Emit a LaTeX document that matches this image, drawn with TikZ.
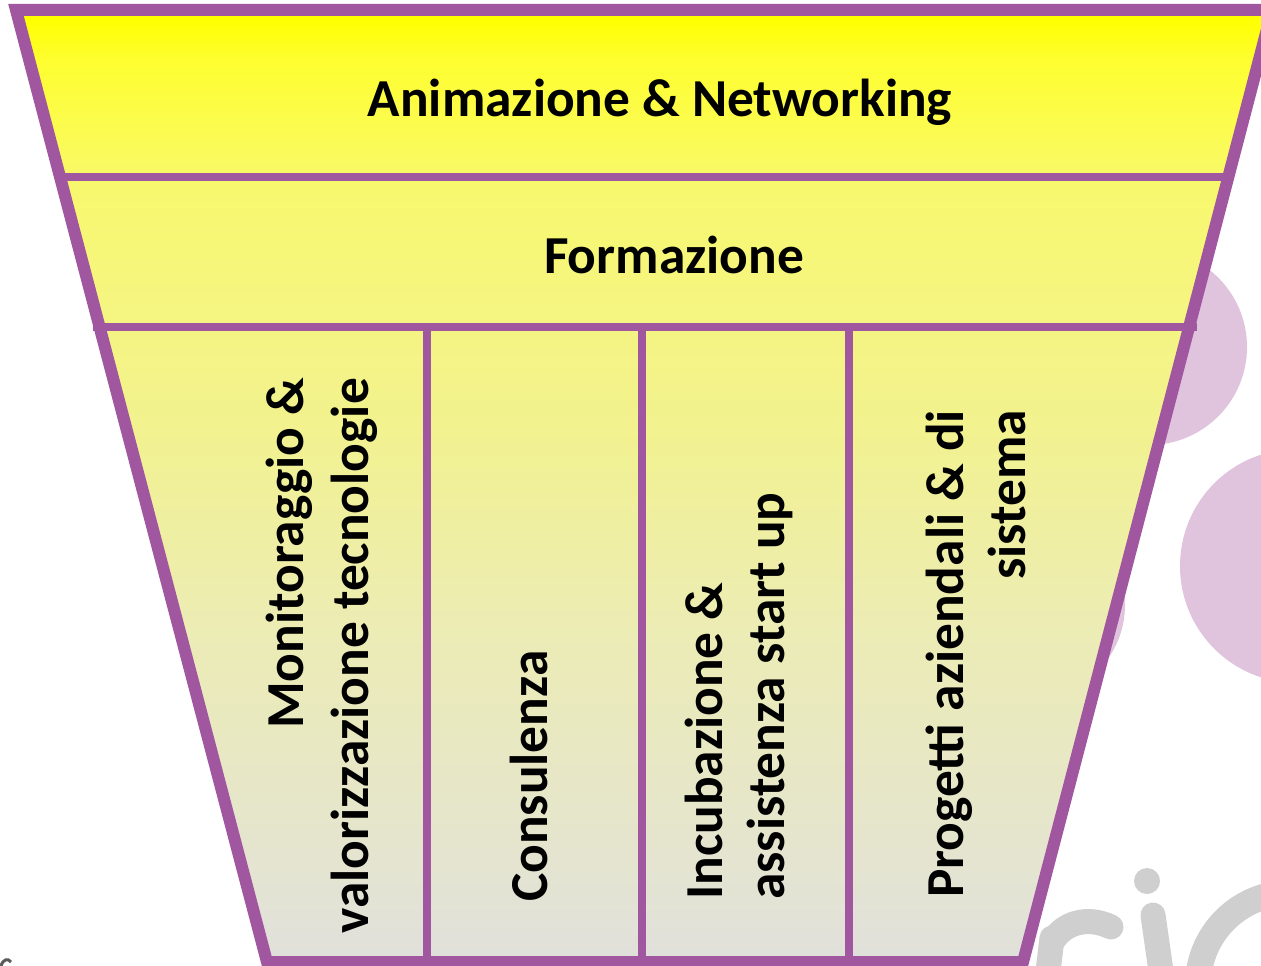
\documentclass[tikz,border=0pt]{standalone}
\usepackage{fontspec}
\setmainfont{Carlito}
\definecolor{fpurple}{RGB}{161,86,160}
\definecolor{fpink}{RGB}{224,196,222}
\definecolor{fgray}{RGB}{207,207,207}
\definecolor{fdark}{RGB}{90,90,90}
\pgfdeclareverticalshading{funnelshade}{100bp}{%
 rgb(0bp)=(0.878,0.878,0.863);
 rgb(25bp)=(0.878,0.878,0.863);
 rgb(28.3bp)=(0.890,0.890,0.835);
 rgb(42.4bp)=(0.925,0.925,0.710);
 rgb(53.5bp)=(0.949,0.949,0.557);
 rgb(59.8bp)=(0.961,0.961,0.502);
 rgb(65.8bp)=(0.973,0.973,0.431);
 rgb(68.2bp)=(0.984,0.984,0.333);
 rgb(72.4bp)=(0.996,0.996,0.188);
 rgb(74.6bp)=(1,1,0);
 rgb(100bp)=(1,1,0)}
\tikzset{
  lbl/.style={font=\bfseries\fontsize{53.4}{64}\selectfont, inner sep=0pt, text=black},
  vlbl/.style={lbl, rotate=90},
  border/.style={fpurple, line width=12pt, line join=miter},
  divider/.style={fpurple, line width=8pt},
  pinkblob/.style={fill=fpink},
  watermark/.style={fgray, line width=25pt, line cap=round}
}
\begin{document}
\begin{tikzpicture}[x=1pt,y=-1pt]
\useasboundingbox (0,0) rectangle (1261,966);
\clip (0,0) rectangle (1261,966);
\fill[white] (0,0) rectangle (1261,966);
% background blobs
\fill[pinkblob] (1149,347) circle [radius=98pt];
\fill[pinkblob] (1297,566) circle [radius=117pt];
\fill[pinkblob] (1032,605) circle [radius=93pt];
% watermark letters
\draw[watermark] (1047,980) -- (1052,938);
\draw[watermark] (1052,942) .. controls (1064,922) and (1088,916) .. (1111,927);
\fill[fgray] (1147,881) circle [radius=13pt];
\draw[watermark] (1153,915) -- (1163,985);
\draw[fgray, line width=26pt] (1290,985) circle [radius=92pt];
\draw[fdark, line width=3pt] (1,966) .. controls (3,959) and (8,958) .. (11,962);
% funnel
\shade[shading=funnelshade] (16,10) -- (1272,10) -- (1023,962) -- (267,962) -- cycle;
\draw[divider] (60,177) -- (1228,177);
\draw[divider] (93,327) -- (1197,327);
\draw[divider] (427,327) -- (427,962);
\draw[divider] (642,327) -- (642,962);
\draw[divider] (849,327) -- (849,962);
\draw[border] (16,10) -- (1272,10) -- (1023,962) -- (267,962) -- cycle;
% labels
\node[lbl, anchor=base] (anim) at (660,116) {Animazione \& Networking};
\node[lbl, anchor=base] (form) at (674,273) {Formazione};
\node[vlbl, anchor=base east] (mon1) at (303,378) {Monitoraggio \&};
\node[vlbl, anchor=base east] (mon2) at (368,378) {valorizzazione tecnologie};
\node[vlbl, anchor=base west] (cons) at (547,902) {Consulenza};
\node[vlbl, anchor=base west] (inc1) at (722,900) {Incubazione \&};
\node[vlbl, anchor=base west] (inc2) at (784,900) {assistenza start up};
\node[vlbl, anchor=base east] (prog1) at (963,410) {Progetti aziendali \& di};
\node[vlbl, anchor=base east] (prog2) at (1025,410) {sistema};
\end{tikzpicture}
\end{document}
